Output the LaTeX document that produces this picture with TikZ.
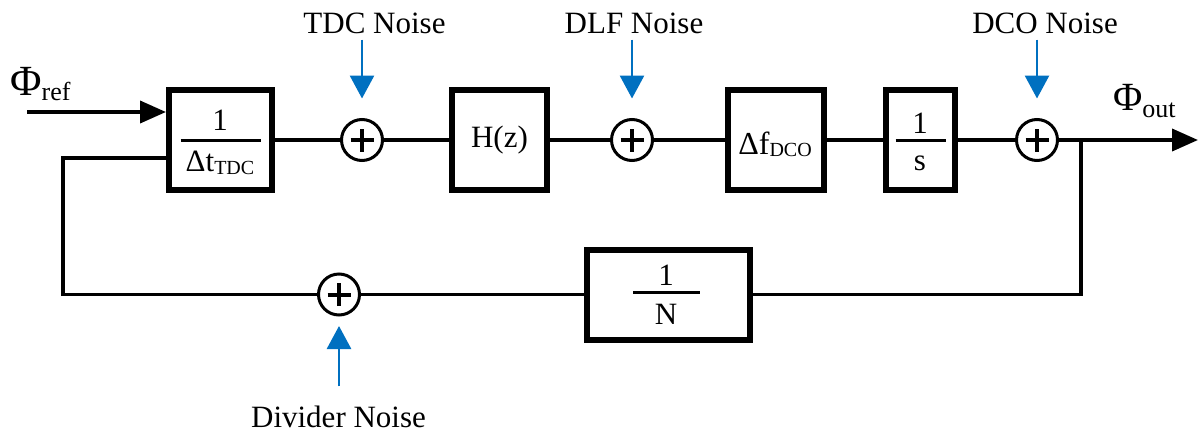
\documentclass[tikz,border=0pt]{standalone}
\usepackage{fontspec}
\setmainfont{Liberation Serif}
\usetikzlibrary{arrows.meta,calc}
\definecolor{noiseblue}{RGB}{0,112,192}
\newcommand\lowsub[2]{\raisebox{-#1}{\fontsize{20}{20}\selectfont #2}}
\begin{document}
\begin{tikzpicture}[x=1pt,y=-1pt,
  blk/.style={draw, line width=6pt, inner sep=0pt, minimum height=100pt},
  sum/.style={circle, draw, line width=3pt, inner sep=0pt, minimum size=41pt,
    path picture={\draw[line width=4pt]
      ([xshift=-11.5pt]path picture bounding box.center) -- ([xshift=11.5pt]path picture bounding box.center)
      ([yshift=-11.5pt]path picture bounding box.center) -- ([yshift=11.5pt]path picture bounding box.center);}},
  btxt/.style={inner sep=0pt, anchor=base, font=\fontsize{31}{31}\selectfont},
  lbl/.style={inner sep=0pt, anchor=base, font=\fontsize{31}{31}\selectfont},
  wire/.style={line width=3.8pt},
  fbar/.style={line width=3pt},
  arr/.style={wire, -{Triangle[length=26pt,width=22pt]}},
  narr/.style={noiseblue, line width=2.8pt, -{Triangle[length=23pt,width=24pt]}},
]
\useasboundingbox (0,0) rectangle (1201,434);

% blocks
\node[blk, minimum width=103pt] (tdc) at (220.5,140) {};
\node[btxt] (tdcnum) at (220,130.7) {1};
\draw[fbar] ($(tdc.center)+(-40,0)$) -- ($(tdc.center)+(40,0)$);
\node[btxt] (tdcden) at (220,171.7) {Δt\lowsub{2.5pt}{TDC}};

\node[blk, minimum width=95pt] (hz) at (499.5,140) {};
\node[inner sep=0pt, font=\fontsize{31}{31}\selectfont] (hzt) at (hz.center) {H(z)};

\node[blk, minimum width=96pt] (df) at (776,140) {};
\node[btxt, font=\fontsize{32}{32}\selectfont] (dft) at (775,154) {Δf\lowsub{2pt}{DCO}};

\node[blk, minimum width=69pt] (is) at (920.5,140) {};
\node[btxt] (isnum) at (920,133) {1};
\draw[fbar] ($(is.center)+(-25,0)$) -- ($(is.center)+(25,0)$);
\node[btxt] (isden) at (920,170) {s};

\node[blk, minimum width=163pt, minimum height=90pt] (ndiv) at (668.5,294.5) {};
\node[btxt] (ndivnum) at (666,285) {1};
\draw[fbar] ($(ndiv.center)+(-35.5,-2.5)$) -- ($(ndiv.center)+(31.5,-2.5)$);
\node[btxt] (ndivden) at (666,324) {N};

% summing junctions
\node[sum] (s1) at (362,140) {};
\node[sum] (s2) at (632,140) {};
\node[sum] (s3) at (1037,140) {};
\node[sum] (s4) at (339,294.5) {};

% labels
\node[inner sep=0pt, anchor=base west] (phiref) at (10,95)
  {\fontsize{43}{43}\selectfont Φ\raisebox{-5pt}{\fontsize{26}{26}\selectfont ref}};
\node[inner sep=0pt, anchor=base west] (phiout) at (1113,110)
  {\fontsize{40}{40}\selectfont Φ\raisebox{-7pt}{\fontsize{26}{26}\selectfont out}};
\node[lbl] (tdcl) at (374.5,33) {TDC Noise};
\node[lbl] (dlfl) at (634,33) {DLF Noise};
\node[lbl] (dcol) at (1045,33) {DCO Noise};
\node[lbl] (divl) at (338.5,427) {Divider Noise};

% coordinates
\coordinate (in) at (27,112);
\coordinate (out) at (1198,140);
\coordinate (br) at (1081,140);
\coordinate (fbl) at (63,294.5);
\coordinate (fbin) at ([yshift=-18pt]tdc.west);

% forward path
\draw[arr] (in) -- (in -| tdc.west);
\draw[wire] (tdc) -- (s1);
\draw[wire] (s1) -- (hz);
\draw[wire] (hz) -- (s2);
\draw[wire] (s2) -- (df);
\draw[wire] (df) -- (is);
\draw[wire] (is) -- (s3);
\draw[arr] (s3) -- (out);

% feedback path
\draw[wire] (br) |- (ndiv);
\draw[wire] (ndiv) -- (s4);
\draw[wire] (s4) -- (fbl) |- (fbin);

% noise injections
\draw[narr, shorten <=6pt, shorten >=19.5pt] (s1 |- tdcl.south) -- (s1.north);
\draw[narr, shorten <=6pt, shorten >=19.5pt] (s2 |- dlfl.south) -- (s2.north);
\draw[narr, shorten <=6pt, shorten >=19.5pt] (s3 |- dcol.south) -- (s3.north);
\draw[narr, shorten <=19pt, shorten >=9.5pt] (s4 |- divl.north) -- (s4.south);
\end{tikzpicture}
\end{document}
